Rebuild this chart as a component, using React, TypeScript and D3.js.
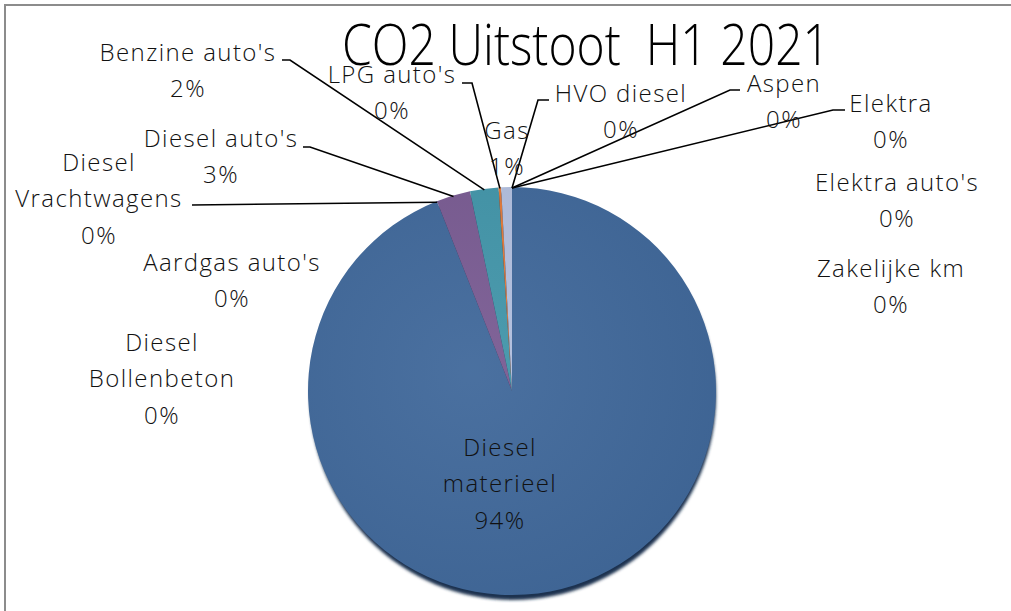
import { useEffect, useRef } from "react";
import * as d3 from "d3";

// CO2 emissions, first half of 2021 (share in %)
const categories = [
  "Diesel materieel",
  "Diesel Bollenbeton",
  "Aardgas auto's",
  "Diesel Vrachtwagens",
  "Diesel auto's",
  "Benzine auto's",
  "LPG auto's",
  "Gas",
  "HVO diesel",
  "Aspen",
  "Elektra",
  "Elektra auto's",
  "Zakelijke km",
];
const values = [94.0, 0, 0, 0, 2.7, 2.25, 0.2, 0.85, 0, 0, 0, 0, 0];
const colors = [
  "#41699b", "#b8504d", "#93b158", "#79608f", "#7a5c93", "#4396aa",
  "#e27a3a", "#b3c0df", "#2c4d75", "#772c2a", "#5f7530", "#4d3b62", "#276a7c",
];

// label placement (Excel layout): centre of first line, optional leader stub
type Label = { lines: string[]; x: number; y: number; stub?: [number, number][] };
const labels: Label[] = [
  { lines: ["Diesel", "materieel"], x: 500, y: 447 },
  { lines: ["Diesel", "Bollenbeton"], x: 162, y: 342 },
  { lines: ["Aardgas auto's"], x: 232, y: 262 },
  { lines: ["Diesel", "Vrachtwagens"], x: 99, y: 162, stub: [[192, 205]] },
  { lines: ["Diesel auto's"], x: 221, y: 138, stub: [[303, 147], [310, 147]] },
  { lines: ["Benzine auto's"], x: 188, y: 52, stub: [[282, 60], [290, 60]] },
  { lines: ["LPG auto's"], x: 392, y: 74, stub: [[462, 83], [472, 83]] },
  { lines: ["Gas"], x: 507, y: 130 },
  { lines: ["HVO diesel"], x: 621, y: 93, stub: [[549, 100], [538, 100]] },
  { lines: ["Aspen"], x: 784, y: 83, stub: [[740, 90], [730, 90]] },
  { lines: ["Elektra"], x: 891, y: 103, stub: [[845, 110], [833, 110]] },
  { lines: ["Elektra auto's"], x: 897, y: 182 },
  { lines: ["Zakelijke km"], x: 891, y: 268 },
];

const W = 1011;
const H = 611;
const FONT = "'Open Sans', 'Noto Sans', sans-serif";

export default function App() {
  const svgRef = useRef<SVGSVGElement>(null);

  useEffect(() => {
    if (!svgRef.current) return;
    const svg = d3.select(svgRef.current);
    svg.selectAll("*").remove();

    const cx = 512;
    const cy = 391;
    const r = 204;

    const defs = svg.append("defs");
    defs
      .append("filter")
      .attr("id", "shadow")
      .attr("x", "-10%")
      .attr("y", "-10%")
      .attr("width", "120%")
      .attr("height", "120%")
      .append("feGaussianBlur")
      .attr("stdDeviation", 1.5);
    const grad = defs
      .append("radialGradient")
      .attr("id", "shade")
      .attr("cx", "40%")
      .attr("cy", "45%")
      .attr("r", "65%");
    grad.append("stop").attr("offset", "0%").attr("stop-color", "#fff").attr("stop-opacity", 0.05);
    grad.append("stop").attr("offset", "100%").attr("stop-color", "#000").attr("stop-opacity", 0.05);

    // frame
    svg
      .append("path")
      .attr("d", `M5,${H + 5} V5 H${W + 5}`)
      .attr("fill", "none")
      .attr("stroke", "#8c8c8c")
      .attr("stroke-width", 2);

    const pie = d3
      .pie<number>()
      .sort(null)
      .value((d) => d)
      .startAngle(0)
      .endAngle(2 * Math.PI);
    const arcs = pie(values);
    const arc = d3.arc<d3.PieArcDatum<number>>().innerRadius(0).outerRadius(r);

    const g = svg.append("g").attr("transform", `translate(${cx},${cy})`);

    // bottom rim shadow of the bevelled pie
    g.append("ellipse")
      .attr("cx", 1)
      .attr("cy", 5)
      .attr("rx", r - 1)
      .attr("ry", r)
      .attr("fill", "#1b3150")
      .attr("filter", "url(#shadow)");

    g.selectAll("path.slice")
      .data(arcs.filter((d) => d.value > 0))
      .join("path")
      .attr("class", "slice")
      .attr("d", arc)
      .attr("fill", (d) => colors[d.index]);

    g.append("circle").attr("r", r).attr("fill", "url(#shade)");

    // leader lines, ending on the slice's outer edge
    const line = d3.line();
    arcs.forEach((d) => {
      const lab = labels[d.index];
      if (!lab.stub) return;
      const mid = (d.startAngle + d.endAngle) / 2;
      const p: [number, number] = [cx + Math.sin(mid) * (r - 1), cy - Math.cos(mid) * (r - 1)];
      svg
        .append("path")
        .attr("d", line([...lab.stub, p]))
        .attr("fill", "none")
        .attr("stroke", "#000")
        .attr("stroke-width", 1.6);
    });

    // data labels
    const lh = 36.5;
    arcs.forEach((d) => {
      const lab = labels[d.index];
      const pct = `${Math.round(d.value)}%`;
      const t = svg
        .append("text")
        .attr("text-anchor", "middle")
        .attr("font-family", FONT)
        .attr("font-size", 24)
        .attr("font-weight", 300)
        .attr("letter-spacing", 1.4)
        .attr("fill", "#111");
      [...lab.lines, pct].forEach((s, i) => {
        t.append("tspan")
          .attr("x", lab.x)
          .attr("y", lab.y + i * lh + 8.5)
          .text(s);
      });
    });

    // title
    svg
      .append("text")
      .attr("x", 342)
      .attr("y", 65)
      .attr("font-family", FONT)
      .attr("font-size", 57)
      .attr("font-weight", 300)
      .attr("textLength", 488)
      .attr("lengthAdjust", "spacingAndGlyphs")
      .attr("fill", "#000")
      .attr("xml:space", "preserve")
      .text("CO2 Uitstoot  H1 2021");
  }, []);

  return (
    <svg
      ref={svgRef}
      width={W}
      height={H}
      style={{ position: "absolute", left: 0, top: 0, background: "#fff" }}
    />
  );
}
